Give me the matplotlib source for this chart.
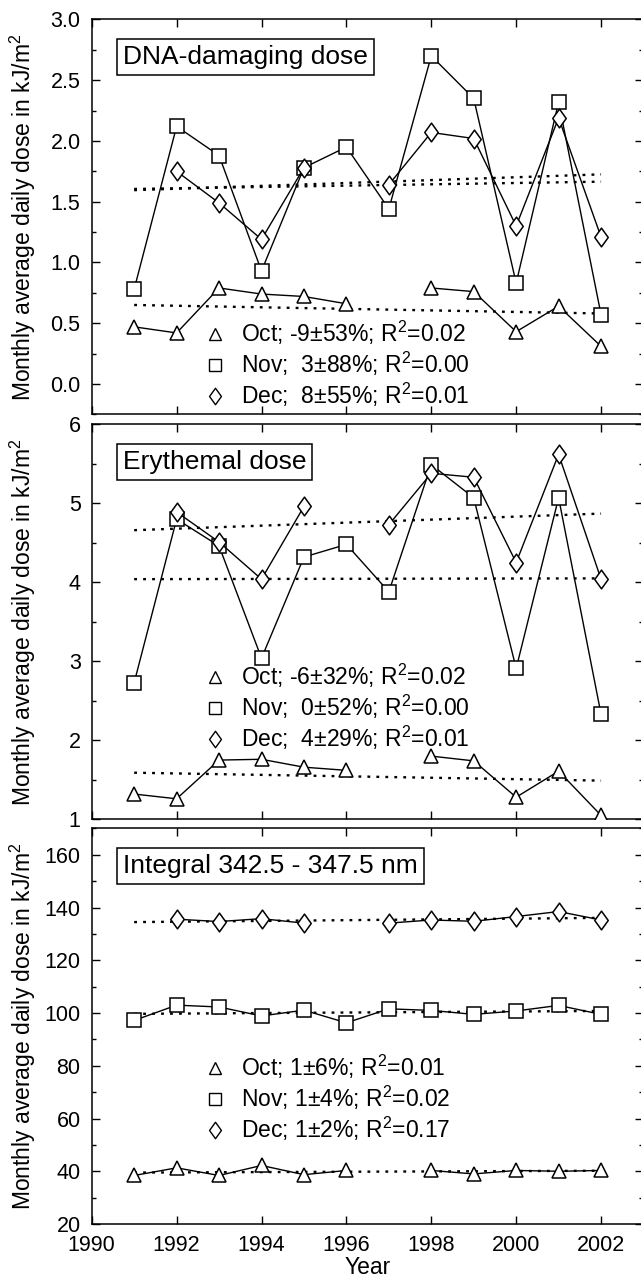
#!/usr/bin/env python

import matplotlib
matplotlib.use("Agg")
import matplotlib.pyplot as plt
import numpy as np
from matplotlib.lines import Line2D
from matplotlib.path import Path
from matplotlib.ticker import MultipleLocator

"""
Monthly average daily UV doses (Oct, Nov, Dec) 1991-2002 with linear trends.
"""

nan = np.nan
years = [1991, 1992, 1993, 1994, 1995, 1996, 1997, 1998, 1999, 2000, 2001, 2002]
trend_years = [1991, 2002]
months = ["Oct", "Nov", "Dec"]

# DNA-damaging dose
dna_oct = [0.47, 0.42, 0.79, 0.74, 0.72, 0.66, nan, 0.79, 0.76, 0.43, 0.64, 0.31]
dna_nov = [0.78, 2.12, 1.88, 0.93, 1.78, 1.95, 1.44, 2.70, 2.35, 0.83, 2.32, 0.57]
dna_dec = [nan, 1.75, 1.49, 1.19, 1.78, nan, 1.64, 2.07, 2.02, 1.30, 2.19, 1.21]
dna_trend = [[0.65, 0.58], [1.605, 1.665], [1.595, 1.725]]
dna_labels = ["Oct; -9±53%; R$^2$=0.02",
              "Nov;  3±88%; R$^2$=0.00",
              "Dec;  8±55%; R$^2$=0.01"]

# Erythemal dose
ery_oct = [1.32, 1.26, 1.75, 1.76, 1.66, 1.62, nan, 1.80, 1.74, 1.28, 1.61, 1.05]
ery_nov = [2.73, 4.80, 4.46, 3.04, 4.32, 4.48, 3.88, 5.49, 5.07, 2.91, 5.07, 2.33]
ery_dec = [nan, 4.89, 4.51, 4.04, 4.96, nan, 4.73, 5.38, 5.33, 4.25, 5.62, 4.04]
ery_trend = [[1.59, 1.49], [4.04, 4.05], [4.66, 4.87]]
ery_labels = ["Oct; -6±32%; R$^2$=0.02",
              "Nov;  0±52%; R$^2$=0.00",
              "Dec;  4±29%; R$^2$=0.01"]

# Integral 342.5 - 347.5 nm
int_oct = [38.4, 41.3, 38.4, 42.2, 38.7, 40.3, nan, 40.3, 39.0, 40.3, 40.0, 40.3]
int_nov = [97.2, 103.0, 102.3, 98.9, 101.1, 96.3, 101.6, 101.0, 99.5, 100.8, 102.9, 99.5]
int_dec = [nan, 135.6, 134.7, 135.8, 134.1, nan, 134.1, 135.3, 134.8, 136.6, 138.5, 135.3]
int_trend = [[39.5, 40.2], [99.7, 100.8], [134.5, 136.1]]
int_labels = ["Oct; 1±6%; R$^2$=0.01",
              "Nov; 1±4%; R$^2$=0.02",
              "Dec; 1±2%; R$^2$=0.17"]

plt.rcParams["font.family"] = ["Liberation Sans", "DejaVu Sans"]
plt.rcParams["mathtext.fontset"] = "custom"
plt.rcParams["mathtext.rm"] = "Liberation Sans"
plt.rcParams["mathtext.it"] = "Liberation Sans:italic"
plt.rcParams["mathtext.bf"] = "Liberation Sans:bold"
plt.rcParams["mathtext.default"] = "regular"

diamond = Path([(0, 1), (0.72, 0), (0, -1), (-0.72, 0), (0, 1)],
               [Path.MOVETO, Path.LINETO, Path.LINETO, Path.LINETO, Path.CLOSEPOLY])
markers = ["^", "s", diamond]
msizes = [9.5, 9.5, 13.5]


def draw_panel(ax, series, trends, labels, title, ylim, major, minor, leg_y):
    for vals, tr, m, ms in zip(series, trends, markers, msizes):
        ax.plot(trend_years, tr, color="black", lw=1.7,
                linestyle=(0, (1.2, 2.6)), zorder=1)
        ax.plot(years, vals, color="black", lw=1.0, marker=m, ms=ms,
                mfc="white", mec="black", mew=1.1, zorder=3)
    ax.set_xlim(1990, 2003)
    ax.set_ylim(*ylim)
    ax.xaxis.set_major_locator(MultipleLocator(2))
    ax.yaxis.set_major_locator(MultipleLocator(major))
    ax.yaxis.set_minor_locator(MultipleLocator(minor))
    ax.tick_params(which="both", direction="in", top=True, right=True,
                   labelsize=15.5, width=1.0, pad=8)
    ax.tick_params(which="major", length=6)
    ax.tick_params(which="minor", length=3)
    for sp in ax.spines.values():
        sp.set_linewidth(1.1)
    ax.set_ylabel("Monthly average daily dose in kJ/m$^2$", fontsize=16.5)
    ax.yaxis.set_label_coords(-0.098, 0.5)
    ax.text(0.057, 0.905, title, transform=ax.transAxes, fontsize=19,
            ha="left", va="center",
            bbox=dict(boxstyle="square,pad=0.22", fc="white", ec="black", lw=1.1))
    handles = [Line2D([], [], linestyle="none", marker=m, ms=ms * 0.88,
                      mfc="white", mec="black", mew=1.0)
               for m, ms in zip(markers, msizes)]
    ax.legend(handles, labels, loc="center left", bbox_to_anchor=(0.2026, leg_y),
              frameon=False, fontsize=16.5, handlelength=1.0, handletextpad=0.65,
              labelspacing=0.12, borderpad=0, borderaxespad=0)


if __name__ == "__main__":
    fig = plt.figure(figsize=(6.41, 12.8), dpi=100)
    left, width = 0.1431, 0.8608
    ax1 = fig.add_axes([left, 0.6763, width, 0.3085])
    ax2 = fig.add_axes([left, 0.3599, width, 0.3086])
    ax3 = fig.add_axes([left, 0.04375, width, 0.3090])

    draw_panel(ax1, [dna_oct, dna_nov, dna_dec], dna_trend, dna_labels,
               "DNA-damaging dose", (-0.25, 3.0), 0.5, 0.25, 0.128)
    draw_panel(ax2, [ery_oct, ery_nov, ery_dec], ery_trend, ery_labels,
               "Erythemal dose", (1, 6), 1, 0.5, 0.285)
    draw_panel(ax3, [int_oct, int_nov, int_dec], int_trend, int_labels,
               "Integral 342.5 - 347.5 nm", (20, 170), 20, 10, 0.318)

    ax1.set_yticks([0.0, 0.5, 1.0, 1.5, 2.0, 2.5, 3.0])
    ax1.yaxis.set_major_formatter(plt.FormatStrFormatter("%.1f"))
    ax3.set_yticks([20, 40, 60, 80, 100, 120, 140, 160])
    for ax in (ax1, ax2):
        ax.tick_params(labelbottom=False)
    ax3.set_xlabel("Year", fontsize=16.5, labelpad=0)

    plt.savefig("out.png", dpi=100)
